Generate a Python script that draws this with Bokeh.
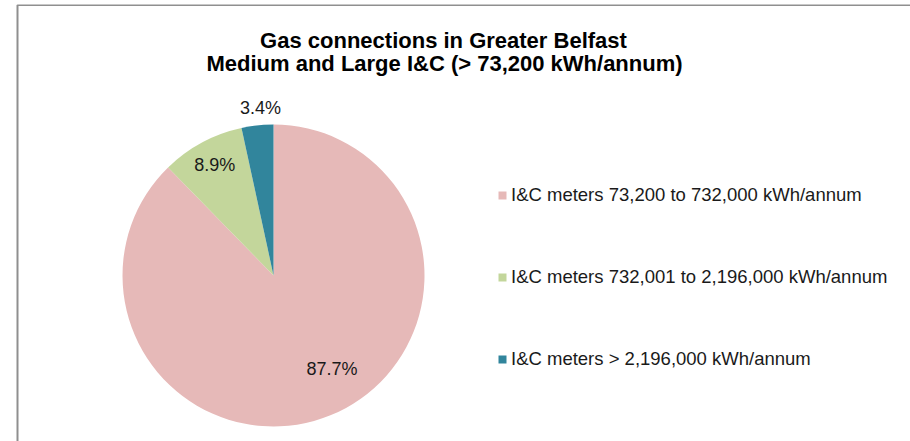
import math
from bokeh.plotting import figure
from bokeh.models import Range1d, Legend, LegendItem
from bokeh.embed import file_html
from bokeh.resources import INLINE

# ---- data ----
categories = [
    "I&C meters 73,200 to 732,000 kWh/annum",
    "I&C meters 732,001 to 2,196,000 kWh/annum",
    "I&C meters > 2,196,000 kWh/annum",
]
shares = [87.7, 8.9, 3.4]
colors = ["#E6B9B8", "#C3D69B", "#31859C"]
title_lines = ["Gas connections in Greater Belfast",
               "Medium and Large I&C (> 73,200 kWh/annum)"]

# ---- layout (page-pixel coordinate system) ----
FONT = "Liberation Sans"
W, H = 902, 437
cx, cy_page, R = 273, 275, 151
label_r = [0.73, 0.83, 1.11]
label_shift_deg = [9.9, -0.3, -1.7]

def Y(page_y):
    return 441 - page_y

p = figure(width=W, height=H, output_backend="svg", toolbar_location=None,
           x_range=Range1d(8, 910), y_range=Range1d(0, 437),
           min_border=0, margin=(4, 0, 0, 8))
p.axis.visible = False
p.grid.visible = False
p.outline_line_color = None
p.background_fill_color = "white"
p.border_fill_color = "white"

# chart-area border (left + top visible)
p.line([17, 17, 910], [Y(441), Y(4.5), Y(4.5)], line_color="#8f8f8f", line_width=2)

total = sum(shares)
starts, ends, lx, ly, texts = [], [], [], [], []
cum = 0.0
for i, s in enumerate(shares):
    a0 = math.pi / 2 - 2 * math.pi * cum / total
    a1 = math.pi / 2 - 2 * math.pi * (cum + s) / total
    starts.append(a0)
    ends.append(a1)
    mid = (a0 + a1) / 2 + math.radians(label_shift_deg[i])
    lx.append(cx + label_r[i] * R * math.cos(mid))
    ly.append(Y(cy_page) + label_r[i] * R * math.sin(mid))
    texts.append(f"{s:.1f}%")
    cum += s

renderers = []
for i in range(len(shares)):
    r = p.wedge(x=cx, y=Y(cy_page), radius=R, start_angle=starts[i], end_angle=ends[i],
                direction="clock", fill_color=colors[i], line_color=None)
    renderers.append(r)

p.text(x=lx, y=ly, text=texts, text_font={"value": FONT}, text_font_size="18px",
       text_color="#1a1a1a", text_align="center", text_baseline="middle")

# title
p.text(x=[443, 444], y=[Y(39.5), Y(63)], text=title_lines, text_font={"value": FONT},
       text_font_size="22px", text_font_style="bold", text_color="black",
       text_align="center", text_baseline="middle")

legend = Legend(items=[LegendItem(label=c, renderers=[r]) for c, r in zip(categories, renderers)],
                location=(489, 71), orientation="vertical",
                glyph_width=10, glyph_height=10, label_standoff=4,
                label_text_font=FONT, label_text_font_size="18.5px", label_text_color="#1a1a1a",
                label_height=21, spacing=60, padding=0, margin=0,
                border_line_color=None, background_fill_alpha=0)
p.add_layout(legend)

open("out.html", "w").write(file_html(p, INLINE))
